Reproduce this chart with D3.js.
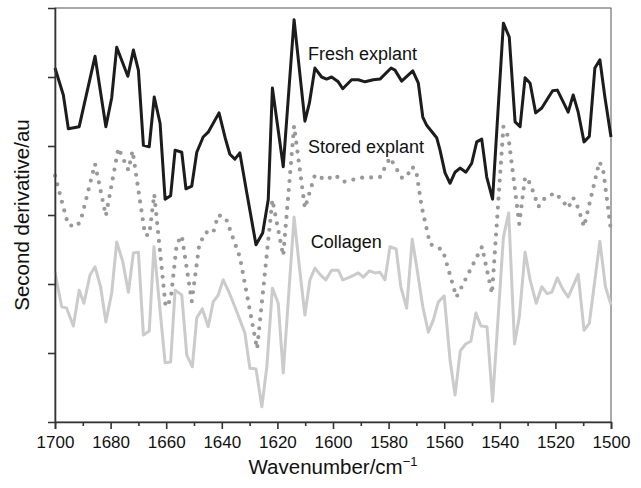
<!DOCTYPE html>
<html>
<head>
<meta charset="utf-8">
<script src="https://cdn.jsdelivr.net/npm/d3@7"></script>
<style>
  body { margin: 0; background: #fff; }
  text { font-family: "Liberation Sans", Arial, sans-serif; fill: #111; }
</style>
</head>
<body>
<svg id="chart"></svg>
<script>
// wavenumbers (cm-1) and second derivative values (arbitrary units)
var freshWn = [1700, 1697.0, 1695.2, 1691.3, 1685.6, 1681.7, 1679.6, 1677.8, 1673.8, 1671.8,
    1670.0, 1668.2, 1666.1, 1664.3, 1662.2, 1660.4, 1658.4, 1656.8, 1654.4, 1652.9,
    1650.8, 1649.0, 1646.7, 1644.9, 1641.0, 1638.8, 1637.1, 1635.3, 1633.5, 1631.0,
    1627.7, 1625.3, 1623.3, 1621.8, 1617.9, 1614.0, 1610.1, 1608.5, 1606.5, 1604.1,
    1602.3, 1600.5, 1598.1, 1596.5, 1593.3, 1590.9, 1588.5, 1585.5, 1583.1, 1579.1,
    1577.7, 1575.3, 1571.3, 1569.3, 1567.7, 1566.3, 1562.7, 1561.5, 1559.7, 1557.9,
    1556.1, 1554.3, 1552.2, 1550.1, 1548.3, 1546.5, 1544.7, 1542.6, 1538.7, 1536.6,
    1534.5, 1532.7, 1530.9, 1529.1, 1527.1, 1524.9, 1522.6, 1521.0, 1519.3, 1517.2,
    1515.4, 1513.6, 1511.8, 1509.7, 1507.8, 1505.8, 1504.0, 1502.2, 1500];
var freshVal = [5.13, 4.74, 4.25, 4.28, 5.30, 4.28, 4.70, 5.43, 5.01, 5.39,
    5.10, 4.01, 3.99, 4.71, 4.33, 3.23, 3.28, 3.94, 3.91, 3.38,
    3.42, 3.91, 4.13, 4.20, 4.48, 4.12, 3.88, 3.81, 3.90, 3.32,
    2.57, 2.74, 3.22, 4.84, 3.70, 5.83, 4.36, 4.62, 5.13, 5.00,
    4.97, 5.00, 4.93, 4.83, 4.96, 4.96, 4.93, 4.96, 4.97, 5.13,
    5.10, 4.94, 5.09, 4.91, 4.42, 4.30, 4.12, 3.94, 3.61, 3.46,
    3.62, 3.68, 3.62, 3.75, 4.06, 4.10, 3.55, 3.23, 5.78, 5.58,
    4.35, 4.28, 4.99, 4.91, 4.48, 4.55, 4.70, 4.80, 4.81, 4.64,
    4.49, 4.74, 4.49, 4.06, 4.14, 5.13, 5.25, 4.71, 4.13];

var storedWn = [1700, 1695.3, 1692.4, 1690.8, 1685.6, 1681.7, 1677.2, 1673.6, 1672.1, 1667.6,
    1666.1, 1664.3, 1660.2, 1658.4, 1656.2, 1654.4, 1650.8, 1648.1, 1645.8, 1643.1,
    1641.3, 1638.6, 1633.5, 1627.3, 1621.8, 1617.9, 1614.0, 1610.1, 1606.5, 1602.5,
    1599.3, 1596.3, 1589.7, 1583.1, 1579.5, 1575.3, 1573.5, 1571.7, 1570.1, 1568.1,
    1565.1, 1560.5, 1555.6, 1546.4, 1542.8, 1538.7, 1536.9, 1533.0, 1530.9, 1529.1,
    1526.1, 1523.7, 1520.1, 1517.7, 1515.4, 1513.6, 1511.8, 1509.7, 1504.2, 1502.9, 1500];
var storedVal = [3.57, 2.86, 2.83, 2.91, 3.74, 2.99, 3.97, 3.65, 3.93, 2.71,
    2.71, 3.30, 1.67, 1.77, 2.58, 2.70, 1.75, 2.57, 2.75, 2.74,
    3.00, 2.96, 2.39, 1.06, 3.22, 2.41, 4.29, 3.10, 3.58, 3.51,
    3.58, 3.48, 3.54, 3.55, 3.83, 3.54, 3.55, 3.70, 3.65, 3.12,
    2.58, 2.49, 1.81, 2.54, 1.86, 4.28, 4.13, 2.87, 3.55, 3.46,
    3.12, 3.25, 3.32, 3.22, 3.10, 3.25, 3.10, 2.83, 3.77, 3.68, 2.77];

var collagenWn = [1700, 1697.6, 1695.8, 1693.4, 1691.3, 1689.6, 1687.4, 1685.6, 1683.6, 1681.7,
    1679.6, 1677.8, 1675.6, 1673.6, 1671.8, 1670.0, 1668.2, 1666.1, 1664.4, 1660.4,
    1658.4, 1656.8, 1654.4, 1652.6, 1650.6, 1649.0, 1647.0, 1644.9, 1643.1, 1641.3,
    1639.5, 1637.3, 1635.3, 1633.5, 1631.7, 1629.9, 1627.7, 1625.6, 1623.8, 1621.8,
    1619.7, 1617.9, 1614.0, 1612.1, 1610.1, 1608.3, 1606.5, 1604.7, 1602.6, 1600.5,
    1598.1, 1596.5, 1593.9, 1590.9, 1589.1, 1586.9, 1584.9, 1583.1, 1581.3, 1579.5,
    1577.3, 1575.6, 1573.5, 1571.5, 1569.7, 1567.7, 1565.7, 1563.9, 1562.1, 1560.0,
    1557.9, 1556.1, 1554.2, 1552.3, 1550.4, 1548.6, 1546.8, 1544.6, 1542.6, 1538.7,
    1536.8, 1534.7, 1533.0, 1530.9, 1529.1, 1526.9, 1524.9, 1523.0, 1521.3, 1519.3,
    1517.4, 1515.4, 1511.8, 1509.7, 1507.8, 1504.0, 1502.0, 1500];
var collagenVal = [2.17, 1.67, 1.65, 1.39, 1.91, 1.72, 2.13, 2.25, 1.96, 1.45,
    1.87, 2.61, 2.32, 1.88, 2.45, 2.46, 1.26, 1.32, 2.54, 0.86,
    0.87, 1.91, 1.84, 0.97, 0.80, 1.51, 1.64, 1.38, 1.74, 1.84,
    2.06, 1.87, 1.67, 1.48, 1.29, 0.78, 0.77, 0.22, 0.80, 1.94,
    1.72, 0.71, 2.97, 2.25, 1.55, 2.06, 2.23, 2.14, 2.06, 2.20,
    2.20, 2.06, 2.10, 2.16, 2.10, 2.19, 2.16, 2.17, 2.06, 2.54,
    2.51, 1.96, 1.65, 2.65, 2.20, 1.67, 1.30, 1.48, 1.74, 1.83,
    0.90, 0.39, 1.03, 1.13, 1.17, 1.58, 1.39, 1.38, 0.30, 2.68,
    3.03, 1.13, 1.52, 2.46, 2.06, 1.72, 1.96, 1.86, 1.88, 2.09,
    1.93, 1.81, 2.14, 1.33, 1.43, 2.62, 1.96, 1.70];

var seriesNames = ["Fresh explant", "Stored explant", "Collagen"];
var xTickLabels = [1700, 1680, 1660, 1640, 1620, 1600, 1580, 1560, 1540, 1520, 1500];
var xMinorTicks = [1690, 1670, 1650, 1630, 1610, 1590, 1570, 1550, 1530, 1510];
var yTicks = [1, 2, 3, 4, 5];

function zip(wn, val) {
    return wn.map(function (w, i) {
        return { wn: w, v: val[i] };
    });
}

var width = 641;
var height = 488;
var margin = { top: 8, right: 30, bottom: 66, left: 55 };

var svg = d3.select("#chart")
    .attr("width", width)
    .attr("height", height);

var x = d3.scaleLinear()
    .domain([1700, 1500])
    .range([margin.left, width - margin.right]);

var y = d3.scaleLinear()
    .domain([0, 6])
    .range([height - margin.bottom, margin.top]);

var line = d3.line()
    .x(function (d) { return x(d.wn); })
    .y(function (d) { return y(d.v); });

// frame (top and right)
svg.append("rect")
    .attr("x", x(1700))
    .attr("y", y(6))
    .attr("width", x(1500) - x(1700))
    .attr("height", y(0) - y(6))
    .style("fill", "none")
    .style("stroke", "#555")
    .style("stroke-width", 1);

// series
svg.append("path")
    .datum(zip(collagenWn, collagenVal))
    .attr("d", line)
    .style("fill", "none")
    .style("stroke", "#cbcbcb")
    .style("stroke-width", 3)
    .style("stroke-linejoin", "round");

svg.append("path")
    .datum(zip(storedWn, storedVal))
    .attr("d", line)
    .style("fill", "none")
    .style("stroke", "#999")
    .style("stroke-width", 4.2)
    .style("stroke-dasharray", "0,9")
    .style("stroke-linecap", "round");

svg.append("path")
    .datum(zip(freshWn, freshVal))
    .attr("d", line)
    .style("fill", "none")
    .style("stroke", "#1c1c1c")
    .style("stroke-width", 3)
    .style("stroke-linejoin", "round");

// axes
var xAxis = svg.append("g")
    .attr("transform", "translate(0," + y(0) + ")")
    .call(d3.axisBottom(x).tickValues(xTickLabels).tickSize(7).tickPadding(7)
        .tickFormat(d3.format("d")));

svg.append("g")
    .attr("transform", "translate(0," + y(0) + ")")
    .call(d3.axisBottom(x).tickValues(xMinorTicks).tickSize(4).tickFormat(""))
    .select(".domain").remove();

var yAxis = svg.append("g")
    .attr("transform", "translate(" + x(1700) + ",0)")
    .call(d3.axisLeft(y).tickValues(yTicks).tickSize(7).tickFormat(""));

svg.selectAll(".domain, .tick line")
    .style("stroke", "#333")
    .style("stroke-width", 1.6);

xAxis.selectAll("text")
    .style("font-size", "17px")
    .style("font-family", "Liberation Sans, Arial, sans-serif")
    .style("fill", "#111");

// series labels
var labelPos = [[1609, 5.24], [1609, 3.9], [1608, 2.52]];
seriesNames.forEach(function (name, i) {
    svg.append("text")
        .attr("x", x(labelPos[i][0]))
        .attr("y", y(labelPos[i][1]))
        .style("font-size", "18px")
        .text(name);
});

// axis titles
var xTitle = svg.append("text")
    .attr("x", (x(1700) + x(1500)) / 2)
    .attr("y", 474)
    .attr("text-anchor", "middle")
    .style("font-size", "20.5px")
    .text("Wavenumber/cm");
xTitle.append("tspan")
    .attr("dy", -8)
    .style("font-size", "13px")
    .text("\u22121");

svg.append("text")
    .attr("transform", "translate(29," + (y(3)) + ") rotate(-90)")
    .attr("text-anchor", "middle")
    .style("font-size", "20.5px")
    .text("Second derivative/au");
</script>
</body>
</html>
